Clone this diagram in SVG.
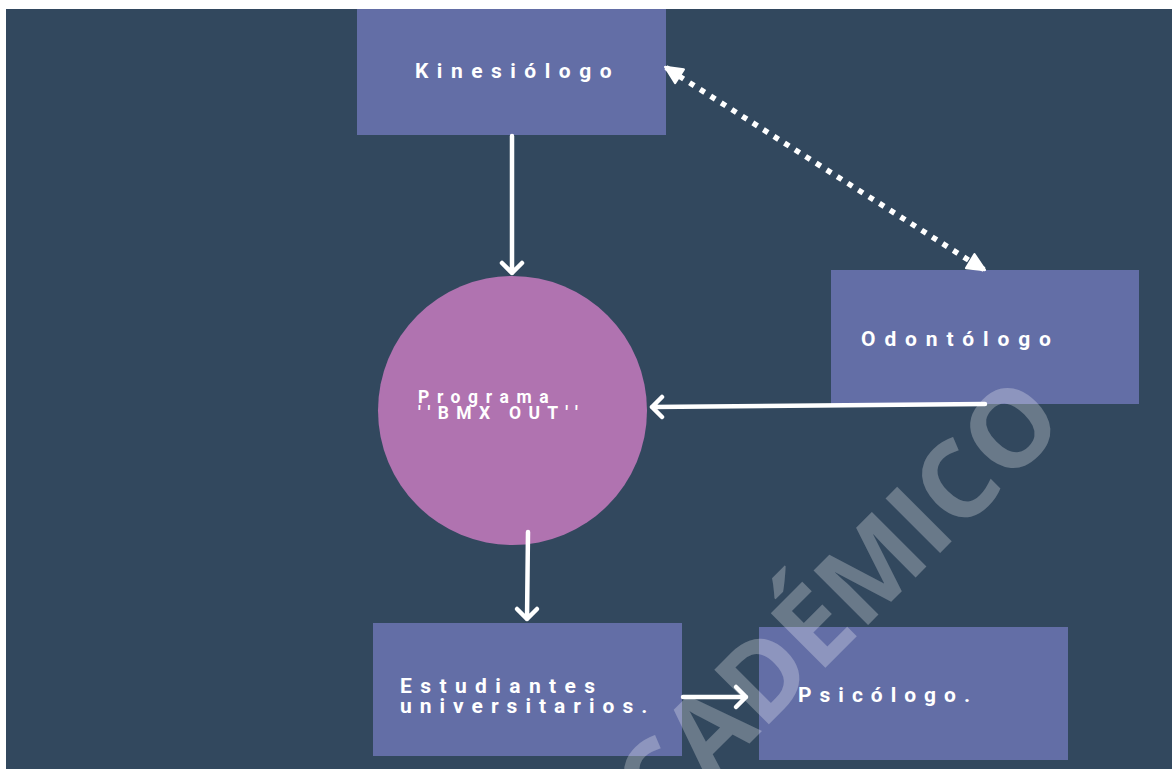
<svg xmlns="http://www.w3.org/2000/svg" width="1172" height="769" viewBox="0 0 1172 769">
<defs>
<style>
.box{fill:#636ea6;}
.lbl{fill:#ffffff;font-family:Roboto,"Open Sans","Liberation Sans",sans-serif;font-weight:700;}
.conn{stroke:#ffffff;stroke-width:4.5;fill:none;stroke-linecap:round;stroke-linejoin:round;}
.dots{stroke:#ffffff;stroke-width:5.5;fill:none;stroke-dasharray:5.5 7;}
.wm{fill:#ffffff;fill-opacity:0.27;font-family:"Open Sans","Liberation Sans",sans-serif;font-weight:700;font-size:108px;}
</style>
<marker id="tri" viewBox="0 0 10 10" refX="9" refY="5" markerWidth="20" markerHeight="20" markerUnits="userSpaceOnUse" orient="auto-start-reverse">
<path d="M1,1 L9.5,5 L1,9 Z" fill="#ffffff" stroke="#ffffff" stroke-width="1.2" stroke-linejoin="round"/>
</marker>
</defs>
<rect x="0" y="0" width="1172" height="769" fill="#ffffff"/>
<rect x="6" y="9" width="1166" height="760" fill="#32485e"/>

<g id="kinesiologo">
<rect class="box" x="357" y="9" width="309" height="126"/>
<text class="lbl" x="415" y="78" font-size="21" letter-spacing="8.5">Kinesiólogo</text>
</g>
<g id="odontologo">
<rect class="box" x="831" y="270" width="308" height="134"/>
<text class="lbl" x="861" y="346" font-size="21" letter-spacing="8.9">Odontólogo</text>
</g>
<g id="programa">
<ellipse cx="512.5" cy="410.5" rx="134.5" ry="134.5" fill="#b073b0"/>
<text class="lbl" x="418" y="403" font-size="17.5" letter-spacing="7.6">Programa</text>
<text class="lbl" x="418" y="419" font-size="17.5" letter-spacing="7.3">''BMX OUT''</text>
</g>
<g id="estudiantes">
<rect class="box" x="373" y="623" width="309" height="133"/>
<text class="lbl" x="400" y="693" font-size="21" letter-spacing="8.4">Estudiantes</text>
<text class="lbl" x="400" y="713" font-size="21" letter-spacing="8">universitarios.</text>
</g>
<g id="psicologo">
<rect class="box" x="759" y="627" width="309" height="133"/>
<text class="lbl" x="798" y="702" font-size="21" letter-spacing="8">Psicólogo.</text>
</g>

<g id="connectors">
<path class="conn" d="M512,136 L512,273 M502,263 L512,273 L522,263"/>
<path class="conn" d="M985,404 L652,407 M662,397 L652,407 L662,417"/>
<path class="conn" d="M528,532 L527,619 M517,609 L527,619 L537,609"/>
<path class="conn" d="M683,697 L746,697 M736,687 L746,697 L736,707"/>
<path class="dots" d="M679,76 L970,261"/>
<path d="M680,76.5 L666,67.5" stroke="#ffffff" stroke-width="5.5" marker-end="url(#tri)"/>
<path d="M970,261 L984,269.5" stroke="#ffffff" stroke-width="5.5" marker-end="url(#tri)"/>
</g>

<text class="wm" transform="translate(1068,425) rotate(-45)" text-anchor="end">ACADÉMICO</text>
</svg>
